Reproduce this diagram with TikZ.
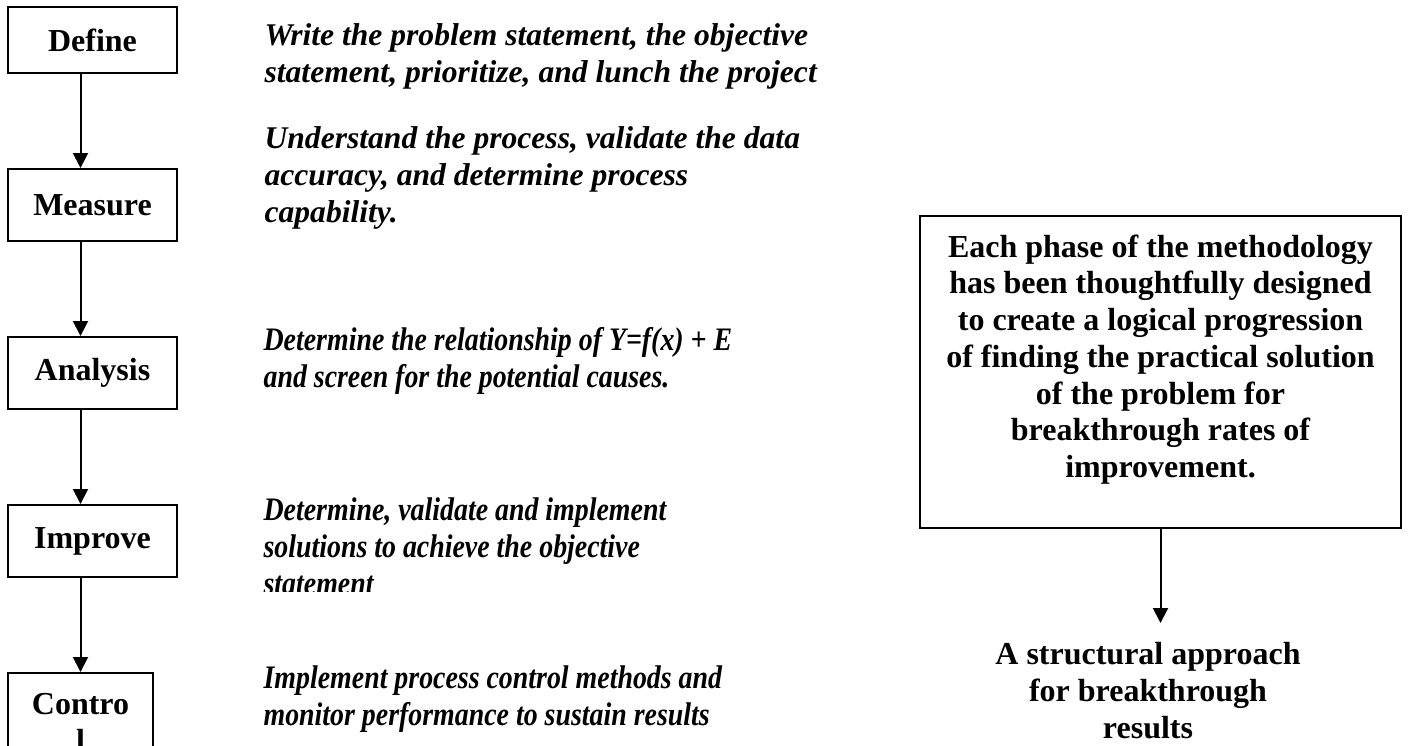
\documentclass[tikz,border=0pt]{standalone}
\usepackage{fontspec}
\setmainfont{Liberation Serif}
\newfontfamily\narrowserif[FakeStretch=0.85]{Liberation Serif}
\usetikzlibrary{arrows.meta}
\usetikzlibrary{positioning}

\begin{document}
\begin{tikzpicture}[x=0.5pt,y=-0.5pt,node distance=47pt, semithick]
	\tikzstyle{phase}=[draw, line width=1pt, minimum width=84.5pt, minimum height=36pt, inner sep=0pt, align=center, font=\fontsize{16}{18.5}\selectfont\bfseries]
	\tikzstyle{desc}=[anchor=base west, align=left, inner sep=0pt, font=\fontsize{15.8}{18.5}\selectfont\bfseries\itshape]
	\tikzstyle{narrowdesc}=[desc, font=\fontsize{16.4}{18.3}\narrowserif\bfseries\itshape]
	\tikzstyle{arr}=[-{Triangle[width=7.5pt,length=7.5pt]}, line width=1pt]
	\useasboundingbox (0,0) rectangle (1408,745);
	\clip (0,0) rectangle (1408,745);

	% the five phases
	\node[phase, minimum height=33pt] (define) at (92.5,40) {Define};
	\node[phase] (measure) [below=of define] {Measure};
	\node[phase] (analysis) [below=of measure] {Analysis};
	\node[phase] (improve) [below=of analysis] {Improve};
	\node[phase, minimum width=72.5pt, minimum height=49pt] (control) [below=of improve.south west, anchor=north west] {Contro\\l};

	\foreach \a/\b in {define/measure, measure/analysis, analysis/improve, improve/control}{
		\draw[arr] (\a.south -| control.north) -- (\b.north -| control.north);
		}

	% what each phase does
	\node[desc] (defdesc) at (264,82) {Write the problem statement, the objective\\statement, prioritize, and lunch the project};
	\node[desc] (measdesc) at (264,222) {Understand the process, validate the data\\accuracy, and determine process\\capability.};
	\node[narrowdesc] (anadesc) at (263,387) {Determine the relationship of Y=f(x) + E\\and screen for the potential causes.};
	\begin{scope}
		\clip (200,480) rectangle (900,591);
		\node[narrowdesc] (impdesc) at (263,594) {Determine, validate and implement\\solutions to achieve the objective\\statement};
	\end{scope}
	\node[narrowdesc] (ctldesc) at (263,725) {Implement process control methods and\\monitor performance to sustain results};

	% the note on the right
	\node[draw, line width=1pt, minimum width=240.5pt, minimum height=156pt] (note) at (1160.5,372) {};
	\node[align=center, inner sep=0pt, font=\fontsize{16}{18.35}\selectfont\bfseries] (notetext) at ([yshift=6.25pt]note.center) {Each phase of the methodology\\has been thoughtfully designed\\to create a logical progression\\of finding the practical solution\\of the problem for\\breakthrough rates of\\improvement.};
	\node[align=center, anchor=north, inner xsep=0pt, inner ysep=9.5pt, font=\fontsize{16}{18.5}\selectfont\bfseries] (result) at (1148,623) {A structural approach\\for breakthrough\\results};
	\draw[arr] (note.south) -- (note.south |- result.north);
\end{tikzpicture}
\end{document}
